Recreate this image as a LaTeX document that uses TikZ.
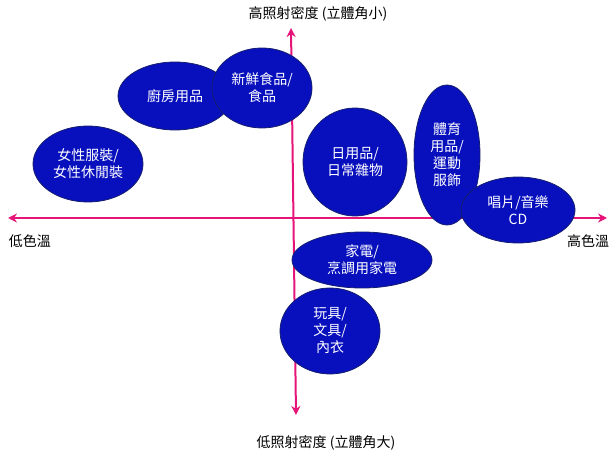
\documentclass[tikz,border=0pt]{standalone}
\usepackage{fontspec}
\setmainfont{Noto Sans CJK TC}
\usetikzlibrary{arrows.meta}
\definecolor{axc}{RGB}{230,20,120}
\definecolor{blobc}{RGB}{8,16,190}
\definecolor{blobe}{RGB}{20,30,110}
\begin{document}
\begin{tikzpicture}[x=1pt,y=1pt,
  ax/.style={axc,line width=2pt,{Stealth[length=9pt,width=9pt]}-{Stealth[length=9pt,width=9pt]}},
  blob/.style={fill=blobc,draw=blobe,line width=0.8pt},
  btext/.style={text=white,font=\fontsize{14}{17}\selectfont,align=center,inner sep=0pt},
  lab/.style={font=\fontsize{14}{16}\selectfont,text=black}]
\useasboundingbox (0,0) rectangle (616,461);
\coordinate (L) at (8,243); \coordinate (R) at (607,243);
\coordinate (T) at (291,433); \coordinate (B) at (296,46);
\draw[ax] (L) -- (R);
\draw[ax] (B) -- (T);
\node[lab] (tl) at (318,447) {高照射密度 (立體角小)};
\node[lab] (bl) at (326,18) {低照射密度 (立體角大)};
\node[lab] (ll) at (30,220) {低色溫};
\node[lab] (rl) at (588,220) {高色溫};
\newcommand\myblob[6]{\path[blob] (#2,461-#3) ellipse [x radius=#4,y radius=#5]; \node[btext] (#1) at (#2,461-#3) {#6};}
\myblob{kit}{175}{96}{57}{34}{廚房用品}
\myblob{food}{262}{88}{50}{40}{新鮮食品/\\食品}
\myblob{fem}{88}{164}{55}{38}{女性服裝/\\女性休閒裝}
\myblob{daily}{355}{162}{52}{54}{日用品/\\日常雜物}
\myblob{sport}{447}{155}{33}{70}{體育\\用品/\\運動\\服飾}
\myblob{cd}{518}{210}{57}{33}{唱片/音樂\\CD}
\myblob{app}{362}{260}{70}{28}{家電/\\烹調用家電}
\myblob{toy}{330}{331}{50}{43}{玩具/\\文具/\\內衣}
\end{tikzpicture}
\end{document}
